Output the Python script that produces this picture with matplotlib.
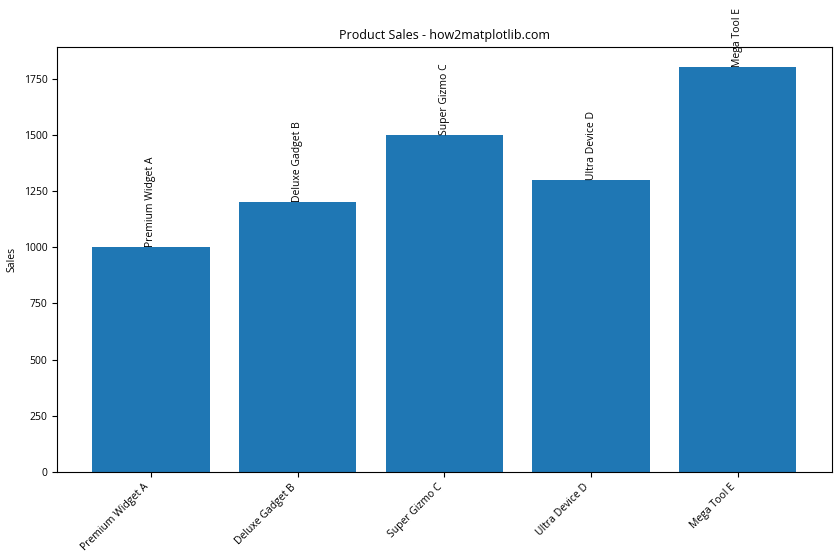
import matplotlib
matplotlib.use("Agg")
import matplotlib.pyplot as plt

plt.rcParams['font.family'] = ['Open Sans', 'DejaVu Sans']

products = ["Premium Widget A", "Deluxe Gadget B", "Super Gizmo C", "Ultra Device D", "Mega Tool E"]
sales = [1000, 1200, 1500, 1300, 1800]

fig, ax = plt.subplots(figsize=(8.4, 5.6), dpi=100)
bars = ax.bar(products, sales, color="#1f77b4")

for bar, name in zip(bars, products):
    ax.text(bar.get_x() + bar.get_width() / 2, bar.get_height(), name,
            ha="center", va="bottom", rotation=90, fontsize=7.5)

ax.set_title("Product Sales - how2matplotlib.com", fontsize=9)
ax.set_ylabel("Sales", fontsize=7.5)
ax.tick_params(labelsize=7.5)
plt.setp(ax.get_xticklabels(), rotation=45, ha="right")

fig.subplots_adjust(left=0.068, right=0.99, top=0.916, bottom=0.157)
fig.savefig("out.png")
